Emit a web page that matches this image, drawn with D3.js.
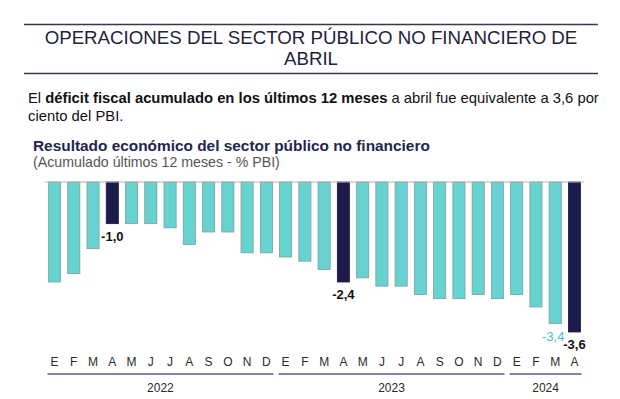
<!DOCTYPE html>
<html>
<head>
<meta charset="utf-8">
<script src="https://cdn.jsdelivr.net/npm/d3@7"></script>
<style>
  body { margin: 0; background: #fff; }
  svg { display: block; font-family: "Liberation Sans", Arial, sans-serif; }
</style>
</head>
<body>
<svg id="chart"></svg>
<script>
(function(){
    "use strict";

    // data
    const months = ["E","F","M","A","M","J","J","A","S","O","N","D",
                    "E","F","M","A","M","J","J","A","S","O","N","D",
                    "E","F","M","A"];
    const values = [-2.4, -2.2, -1.6, -1.0, -1.0, -1.0, -1.1, -1.5, -1.2, -1.2, -1.7, -1.7,
                    -1.8, -1.9, -2.1, -2.4, -2.3, -2.5, -2.5, -2.7, -2.8, -2.8, -2.7, -2.8,
                    -2.7, -3.0, -3.4, -3.6];
    const years = [{ label: "2022", from: 0, to: 11 },
                   { label: "2023", from: 12, to: 23 },
                   { label: "2024", from: 24, to: 27 }];
    const highlighted = [3, 15, 27];
    const labelled = [3, 15, 26, 27];

    const width = 620,
        height = 399;

    const svg = d3.select("svg#chart")
        .attr("width", width)
        .attr("height", height);

    const navy = "#1c1b4c",
        turq = "#66d3d0";

    // header
    svg.append("line")
        .attr("x1", 24).attr("x2", 598).attr("y1", 24.5).attr("y2", 24.5)
        .attr("stroke", "#3a3a48").attr("stroke-width", 1.6);
    svg.append("line")
        .attr("x1", 24).attr("x2", 598).attr("y1", 73.5).attr("y2", 73.5)
        .attr("stroke", "#3a3a48").attr("stroke-width", 1.6);

    svg.append("text")
        .attr("x", 311).attr("y", 44)
        .attr("text-anchor", "middle")
        .attr("font-size", 18.7)
        .attr("fill", "#22223a")
        .text("OPERACIONES DEL SECTOR PÚBLICO NO FINANCIERO DE");
    svg.append("text")
        .attr("x", 311).attr("y", 65)
        .attr("text-anchor", "middle")
        .attr("font-size", 18.7)
        .attr("fill", "#22223a")
        .text("ABRIL");

    const para = svg.append("text")
        .attr("x", 28).attr("y", 103)
        .attr("font-size", 14.8)
        .attr("fill", "#111");
    para.append("tspan").text("El ");
    para.append("tspan").attr("font-weight", "bold").text("déficit fiscal acumulado en los últimos 12 meses");
    para.append("tspan").text(" a abril fue equivalente a 3,6 por");
    svg.append("text")
        .attr("x", 28).attr("y", 121)
        .attr("font-size", 14.8)
        .attr("fill", "#111")
        .text("ciento del PBI.");

    svg.append("text")
        .attr("x", 33).attr("y", 151)
        .attr("font-size", 15.4)
        .attr("font-weight", "bold")
        .attr("fill", "#1f2550")
        .text("Resultado económico del sector público no financiero");
    svg.append("text")
        .attr("x", 33).attr("y", 167)
        .attr("font-size", 14.2)
        .attr("fill", "#555")
        .text("(Acumulado últimos 12 meses - % PBI)");

    // scales
    const x = d3.scaleBand()
        .domain(d3.range(values.length))
        .range([45, 584])
        .paddingInner(0.37)
        .paddingOuter(0.18);

    const y = d3.scaleLinear()
        .domain([0, -3.6])
        .range([182, 332]);

    // bars
    svg.append("g")
        .selectAll("rect")
        .data(values)
        .join("rect")
        .attr("x", (d, i) => x(i))
        .attr("y", y(0))
        .attr("width", x.bandwidth())
        .attr("height", d => y(d) - y(0))
        .attr("fill", (d, i) => highlighted.includes(i) ? navy : turq)
        .attr("stroke", (d, i) => highlighted.includes(i) ? navy : "#7f9d9c")
        .attr("stroke-width", 0.8);

    // zero line
    svg.append("line")
        .attr("x1", 45).attr("x2", 584)
        .attr("y1", y(0)).attr("y2", y(0))
        .attr("stroke", "#b5b5b5").attr("stroke-width", 1.2);

    // value labels
    const fmt = v => d3.format(".1f")(v).replace("−", "-").replace(".", ",");
    svg.append("g")
        .selectAll("text")
        .data(labelled)
        .join("text")
        .attr("x", i => i === 26 ? x(i) + x.bandwidth() / 2 - 2 : x(i) + x.bandwidth() / 2)
        .attr("y", i => y(values[i]) + 17)
        .attr("text-anchor", "middle")
        .attr("font-size", 13)
        .attr("font-weight", i => i === 26 ? "normal" : "bold")
        .attr("fill", i => i === 26 ? "#3fbfcf" : "#111")
        .text(i => fmt(values[i]));

    // x axis: month letters
    svg.append("g")
        .selectAll("text")
        .data(months)
        .join("text")
        .attr("x", (d, i) => x(i) + x.bandwidth() / 2)
        .attr("y", 366)
        .attr("text-anchor", "middle")
        .attr("font-size", 12)
        .attr("fill", "#2a2a2a")
        .text(d => d);

    // year groups
    const yg = svg.append("g");
    yg.selectAll("line")
        .data(years)
        .join("line")
        .attr("x1", d => x(d.from) - 1)
        .attr("x2", d => x(d.to) + x.bandwidth() + 1)
        .attr("y1", 374).attr("y2", 374)
        .attr("stroke", "#7888aa").attr("stroke-width", 2);
    yg.selectAll("text")
        .data(years)
        .join("text")
        .attr("x", d => (x(d.from) + x(d.to) + x.bandwidth()) / 2)
        .attr("y", 392)
        .attr("text-anchor", "middle")
        .attr("font-size", 12)
        .attr("fill", "#2a2a2a")
        .text(d => d.label);
})();
</script>
</body>
</html>
